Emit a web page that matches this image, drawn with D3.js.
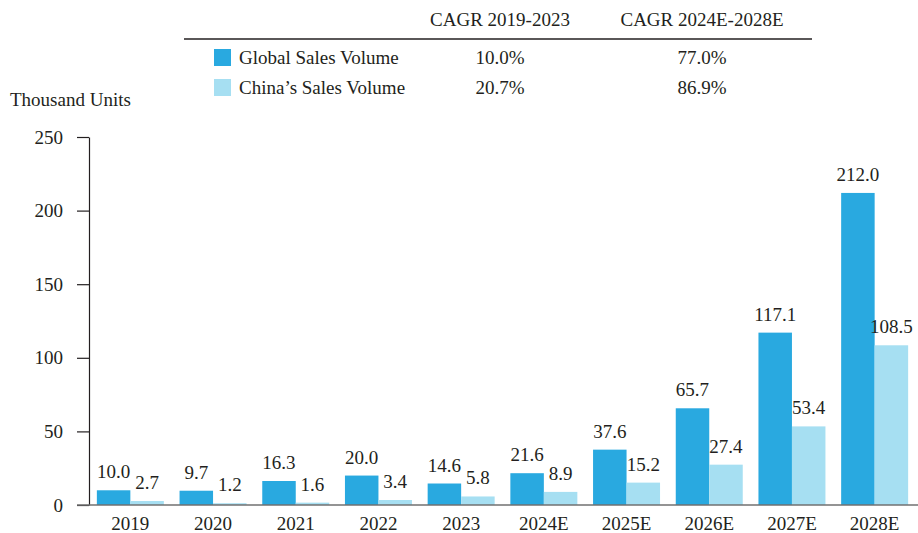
<!DOCTYPE html>
<html>
<head>
<meta charset="utf-8">
<script src="https://cdn.jsdelivr.net/npm/d3@7"></script>
<style>
  body { margin: 0; background: #fff; }
  svg text { fill: #231f20; }
</style>
</head>
<body>
<script>
// data
var years = ["2019", "2020", "2021", "2022", "2023", "2024E", "2025E", "2026E", "2027E", "2028E"];
var globalSales = [10.0, 9.7, 16.3, 20.0, 14.6, 21.6, 37.6, 65.7, 117.1, 212.0];
var chinaSales = [2.7, 1.2, 1.6, 3.4, 5.8, 8.9, 15.2, 27.4, 53.4, 108.5];
var seriesNames = ["Global Sales Volume", "China\u2019s Sales Volume"];
var cagrHeaders = ["CAGR 2019-2023", "CAGR 2024E-2028E"];
var cagrGlobal = ["10.0%", "77.0%"];
var cagrChina = ["20.7%", "86.9%"];
var yTicks = [0, 50, 100, 150, 200, 250];

var width = 918, height = 533;
var colors = ["#29a9e0", "#a6dff2"];
var serif = "'Liberation Serif', 'Times New Roman', Times, serif";
var fs = "19px";

var svg = d3.select("body").append("svg")
    .attr("width", width)
    .attr("height", height)
    .style("font-family", serif);

//scales
var x = d3.scaleBand().domain(years).range([89, 916]).paddingInner(0.19).paddingOuter(0.095);
var xs = d3.scaleBand().domain([0, 1]).range([0, x.bandwidth()]);
var y = d3.scaleLinear().domain([0, 250]).range([505, 137]);

//y axis
var yAxis = d3.axisLeft(y).tickValues(yTicks).tickSize(12).tickSizeOuter(0).tickPadding(14);
var gy = svg.append("g")
    .attr("transform", "translate(89,0)")
    .call(yAxis)
    .attr("font-family", null);
gy.select(".domain").attr("stroke", "#231f20").attr("stroke-width", 1.2);
gy.selectAll(".tick line").attr("stroke", "#231f20").attr("stroke-width", 1.2);
gy.selectAll(".tick text").style("font-size", fs).style("font-family", serif).attr("fill", "#231f20");

//bars
var groups = svg.selectAll(".year")
    .data(years)
    .enter().append("g")
    .attr("class", "year")
    .attr("transform", function(d){ return "translate(" + x(d) + ",0)"; });

[globalSales, chinaSales].forEach(function(vals, s){
    groups.append("rect")
        .attr("x", xs(s))
        .attr("width", xs.bandwidth())
        .attr("y", function(d, i){ return y(vals[i]); })
        .attr("height", function(d, i){ return y(0) - y(vals[i]); })
        .attr("fill", colors[s]);
    groups.append("text")
        .attr("x", xs(s) + xs.bandwidth() / 2)
        .attr("y", function(d, i){ return y(vals[i]) - 12; })
        .attr("text-anchor", "middle")
        .style("font-size", fs)
        .style("font-family", serif)
        .text(function(d, i){ return vals[i].toFixed(1); });
});

//x axis baseline + labels
var xAxis = d3.axisBottom(x).tickSize(0).tickPadding(12);
var gx = svg.append("g")
    .attr("transform", "translate(0," + y(0) + ")")
    .call(xAxis)
    .attr("font-family", null);
gx.select(".domain").remove();
gx.selectAll(".tick text").style("font-size", fs).style("font-family", serif).attr("fill", "#231f20");
svg.append("line")
    .attr("x1", 77).attr("x2", 918)
    .attr("y1", y(0)).attr("y2", y(0))
    .attr("stroke", "#707070").attr("stroke-width", 1.5);

//unit label
svg.append("text")
    .attr("x", 10).attr("y", 106)
    .style("font-size", fs)
    .style("font-family", serif)
    .text("Thousand Units");

//legend table
var colX = [500, 702];
svg.selectAll(".hdr")
    .data(cagrHeaders)
    .enter().append("text")
    .attr("x", function(d, i){ return colX[i]; })
    .attr("y", 26)
    .attr("text-anchor", "middle")
    .style("font-size", fs)
    .style("font-family", serif)
    .text(function(d){ return d; });
svg.append("line")
    .attr("x1", 184).attr("x2", 812)
    .attr("y1", 39).attr("y2", 39)
    .attr("stroke", "#231f20").attr("stroke-width", 1.3);

var rows = [cagrGlobal, cagrChina];
rows.forEach(function(vals, r){
    var ry = 64 + r * 30;
    svg.append("rect")
        .attr("x", 214).attr("y", ry - 15)
        .attr("width", 17).attr("height", 17)
        .attr("fill", colors[r]);
    svg.append("text")
        .attr("x", 239).attr("y", ry)
        .style("font-size", fs)
        .style("font-family", serif)
        .text(seriesNames[r]);
    vals.forEach(function(v, c){
        svg.append("text")
            .attr("x", colX[c]).attr("y", ry)
            .attr("text-anchor", "middle")
            .style("font-size", fs)
            .style("font-family", serif)
            .text(v);
    });
});
</script>
</body>
</html>
